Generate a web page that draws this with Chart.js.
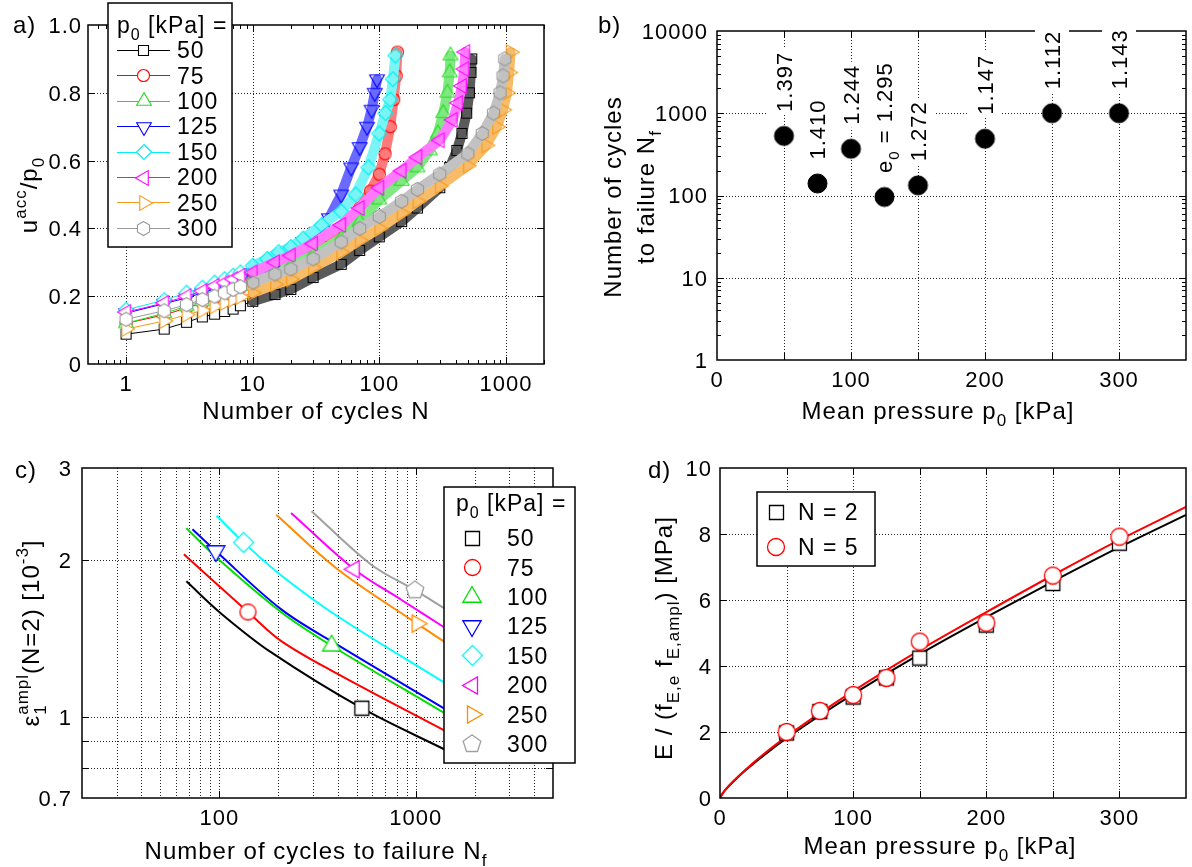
<!DOCTYPE html>
<html lang="en">
<head>
<meta charset="UTF-8">
<title>Pore pressure, cycles to failure and stiffness</title>
<script src="https://cdn.jsdelivr.net/npm/chart.js"></script>
<style>
  body { margin: 0; background: #fff; width: 1192px; height: 867px; position: relative; overflow: hidden; }
  canvas { position: absolute; }
</style>
</head>
<body>
<canvas id="chartA" width="590" height="430" style="left:0;top:0"></canvas>
<canvas id="chartB" width="602" height="430" style="left:590px;top:0"></canvas>
<canvas id="chartC" width="590" height="437" style="left:0;top:430px"></canvas>
<canvas id="chartD" width="602" height="437" style="left:590px;top:430px"></canvas>
<script>
// ---- data ----
const pressures = [50, 75, 100, 125, 150, 200, 250, 300];

// a) accumulated pore pressure ratio vs number of cycles
const cyclesA50 = [1, 2, 3, 4, 5, 6, 7, 8, 10, 15, 20, 30, 50, 70, 100, 150, 200, 300, 360, 410, 450, 490, 515, 530, 537];
const uaccA50 = [0.088, 0.103, 0.123, 0.139, 0.147, 0.155, 0.162, 0.172, 0.185, 0.205, 0.22, 0.255, 0.294, 0.335, 0.375, 0.42, 0.46, 0.52, 0.58, 0.63, 0.68, 0.74, 0.80, 0.86, 0.90];
const cyclesA75 = [1, 2, 3, 4, 5, 6, 7, 8, 10, 13, 16, 20, 25, 35, 52, 70, 85, 100, 111, 122, 130, 136, 139];
const uaccA75 = [0.12, 0.145, 0.165, 0.18, 0.195, 0.205, 0.215, 0.225, 0.245, 0.265, 0.285, 0.30, 0.32, 0.35, 0.40, 0.46, 0.51, 0.56, 0.62, 0.70, 0.78, 0.85, 0.92];
const cyclesA100 = [1, 2, 3, 4, 5, 6, 7, 8, 10, 15, 20, 30, 50, 70, 100, 150, 200, 250, 290, 320, 345, 360, 365];
const uaccA100 = [0.12, 0.15, 0.17, 0.185, 0.20, 0.21, 0.22, 0.23, 0.245, 0.27, 0.29, 0.32, 0.37, 0.42, 0.485, 0.54, 0.58, 0.63, 0.68, 0.74, 0.80, 0.86, 0.91];
const cyclesA125 = [1, 2, 3, 4, 5, 6, 7, 8, 10, 13, 16, 20, 25, 32, 40, 50, 60, 70, 80, 87, 92, 96];
const uaccA125 = [0.15, 0.178, 0.195, 0.21, 0.222, 0.232, 0.242, 0.25, 0.268, 0.29, 0.31, 0.335, 0.36, 0.39, 0.43, 0.50, 0.58, 0.64, 0.70, 0.75, 0.80, 0.84];
const cyclesA150 = [1, 2, 3, 4, 5, 6, 7, 8, 10, 13, 16, 20, 25, 35, 50, 65, 82, 100, 112, 122, 128, 134];
const uaccA150 = [0.16, 0.188, 0.21, 0.225, 0.24, 0.25, 0.26, 0.27, 0.29, 0.31, 0.33, 0.345, 0.37, 0.41, 0.45, 0.50, 0.58, 0.68, 0.74, 0.78, 0.84, 0.91];
const cyclesA200 = [1, 2, 3, 4, 5, 6, 7, 8, 10, 15, 20, 30, 50, 70, 100, 150, 200, 300, 380, 420, 450, 470, 478];
const uaccA200 = [0.153, 0.18, 0.20, 0.215, 0.23, 0.24, 0.25, 0.26, 0.27, 0.30, 0.32, 0.355, 0.41, 0.46, 0.52, 0.57, 0.61, 0.66, 0.72, 0.77, 0.82, 0.87, 0.92];
const cyclesA250 = [1, 2, 3, 4, 5, 6, 7, 8, 10, 15, 20, 30, 50, 70, 100, 150, 200, 300, 500, 700, 850, 950, 1020, 1060, 1090];
const uaccA250 = [0.103, 0.127, 0.145, 0.158, 0.17, 0.18, 0.19, 0.198, 0.21, 0.235, 0.25, 0.285, 0.33, 0.365, 0.40, 0.445, 0.48, 0.525, 0.585, 0.645, 0.70, 0.75, 0.80, 0.86, 0.92];
const cyclesA300 = [1, 2, 3, 4, 5, 6, 7, 8, 10, 15, 20, 30, 50, 70, 100, 150, 200, 300, 500, 650, 800, 900, 950, 980];
const uaccA300 = [0.132, 0.157, 0.175, 0.19, 0.20, 0.21, 0.22, 0.228, 0.24, 0.265, 0.28, 0.31, 0.36, 0.40, 0.435, 0.48, 0.515, 0.56, 0.62, 0.68, 0.74, 0.80, 0.85, 0.90];

// b) number of cycles to failure
const cyclesToFailure = [530, 140, 370, 96, 133, 490, 1000, 1000];
const voidRatios = ['1.397', '1.410', '1.244', '1.295', '1.272', '1.147', '1.112', '1.143'];

// c) strain amplitude vs cycles to failure
const fitN50 = [68, 102, 184, 532, 1420];   const fitEps50 = [1.82, 1.58, 1.33, 1.04, 0.865];
const fitN75 = [66, 140, 206, 400, 1420];   const fitEps75 = [2.05, 1.59, 1.40, 1.21, 0.94];
const fitN100 = [68, 100, 206, 373, 1420];  const fitEps100 = [2.30, 2.00, 1.59, 1.37, 1.015];
const fitN125 = [73, 96, 206, 400, 1420];   const fitEps125 = [2.29, 2.08, 1.61, 1.375, 1.035];
const fitN150 = [97, 133, 206, 400, 1420];  const fitEps150 = [2.43, 2.16, 1.87, 1.56, 1.16];
const fitN200 = [232, 486, 840, 1420];      const fitEps200 = [2.46, 1.92, 1.68, 1.48];
const fitN250 = [195, 400, 1016, 1420];     const fitEps250 = [2.44, 1.92, 1.51, 1.39];
const fitN300 = [295, 592, 991, 1420];      const fitEps300 = [2.48, 1.96, 1.75, 1.61];
const failN = [532, 140, 373, 96, 133, 486, 1016, 991];
const failEps = [1.04, 1.59, 1.37, 2.08, 2.16, 1.92, 1.51, 1.75];

// d) stiffness vs mean pressure
const stiffN2 = [1.97, 2.62, 3.06, 3.64, 4.24, 5.24, 6.50, 7.72];
const stiffN5 = [2.00, 2.64, 3.12, 3.64, 4.74, 5.31, 6.74, 7.92];
const curveP = [0, 2, 5, 10, 20, 35, 50, 75, 100, 150, 200, 250, 300, 350];
const curveN2 = [0, 0.14, 0.29, 0.50, 0.87, 1.36, 1.81, 2.50, 3.15, 4.36, 5.48, 6.56, 7.60, 8.58];
const curveN5 = [0, 0.14, 0.29, 0.51, 0.89, 1.40, 1.86, 2.57, 3.24, 4.48, 5.63, 6.75, 7.82, 8.82];

// ---- helpers ----
const FONT = '"Liberation Sans", Arial, Helvetica, sans-serif';
const TICK = 22, TITLE = 24, LEG = 23;

function setFont(ctx, size) {
  ctx.font = size + 'px ' + FONT;
  ctx.letterSpacing = '1px';
}

// parts: plain strings, {b: sub}, {p: sup}, or both stacked
function richWidth(ctx, parts, size) {
  let w = 0;
  parts.forEach(p => {
    if (typeof p === 'string') { setFont(ctx, size); w += ctx.measureText(p).width; }
    else {
      setFont(ctx, Math.round(size * 0.7));
      w += Math.max(p.b ? ctx.measureText(p.b).width : 0, p.p ? ctx.measureText(p.p).width : 0);
    }
  });
  return w;
}

function drawRich(ctx, parts, x, y, size, align, angle) {
  ctx.save();
  ctx.translate(x, y);
  if (angle) ctx.rotate(angle);
  const w = richWidth(ctx, parts, size);
  let cx = align === 'center' ? -w / 2 : align === 'right' ? -w : 0;
  const base = size * 0.36;
  ctx.textAlign = 'left';
  ctx.textBaseline = 'alphabetic';
  parts.forEach(p => {
    if (typeof p === 'string') {
      setFont(ctx, size);
      ctx.fillText(p, cx, base);
      cx += ctx.measureText(p).width;
    } else {
      setFont(ctx, Math.round(size * 0.7));
      let pw = 0;
      if (p.b) { ctx.fillText(p.b, cx, base + size * 0.3); pw = ctx.measureText(p.b).width; }
      if (p.p) { ctx.fillText(p.p, cx, base - size * 0.45); pw = Math.max(pw, ctx.measureText(p.p).width); }
      cx += pw;
    }
  });
  ctx.restore();
}

function marker(kind, r, color, fill, lw) {
  lw = lw || 1.2;
  const s = Math.ceil(2 * r + 2 * lw + 2);
  const c = document.createElement('canvas');
  c.width = s; c.height = s;
  const g = c.getContext('2d');
  g.translate(s / 2, s / 2);
  g.beginPath();
  if (kind === 'circle') g.arc(0, 0, r, 0, Math.PI * 2);
  else if (kind === 'square') g.rect(-r, -r, 2 * r, 2 * r);
  else {
    const spec = { up: [3, -90], down: [3, 90], left: [3, 180], right: [3, 0], diamond: [4, -90], hex: [6, -90], pent: [5, -90] }[kind];
    for (let i = 0; i < spec[0]; i++) {
      const ang = (spec[1] + i * 360 / spec[0]) * Math.PI / 180;
      if (i) g.lineTo(r * Math.cos(ang), r * Math.sin(ang));
      else g.moveTo(r * Math.cos(ang), r * Math.sin(ang));
    }
    g.closePath();
  }
  if (fill) { g.fillStyle = fill; g.fill(); }
  g.strokeStyle = color; g.lineWidth = lw; g.stroke();
  return c;
}

function putMarker(ctx, m, x, y) {
  ctx.drawImage(m, Math.round(x - m.width / 2), Math.round(y - m.height / 2));
}

function pts(xs, ys) { return xs.map((v, i) => ({ x: v, y: ys[i] })); }

const logMinor = (from, to) => {
  const out = [];
  for (let d = from; d < to; d *= 10) for (let k = 2; k <= 9; k++) out.push(k * d);
  return out;
};

// grid, frame, ticks, tick labels + extra drawing
function panelPlugin(o) {
  return {
    id: 'panel',
    beforeDatasetsDraw(chart) {
      const { ctx, chartArea: a } = chart;
      const x = chart.scales.x, y = chart.scales.y;
      ctx.save();
      ctx.strokeStyle = '#222'; ctx.lineWidth = 1; ctx.setLineDash([1, 2]);
      ctx.beginPath();
      o.gridX.forEach(v => { const p = Math.round(x.getPixelForValue(v)) + 0.5; ctx.moveTo(p, a.top); ctx.lineTo(p, a.bottom); });
      o.gridY.forEach(v => { const p = Math.round(y.getPixelForValue(v)) + 0.5; ctx.moveTo(a.left, p); ctx.lineTo(a.right, p); });
      ctx.stroke();
      ctx.restore();
    },
    afterDatasetsDraw(chart) {
      const { ctx, chartArea: a } = chart;
      const x = chart.scales.x, y = chart.scales.y;
      ctx.save();
      ctx.strokeStyle = '#000'; ctx.lineWidth = 1;
      ctx.beginPath();
      const tx = (list, len) => list.forEach(v => {
        const p = Math.round(x.getPixelForValue(v)) + 0.5;
        ctx.moveTo(p, a.bottom); ctx.lineTo(p, a.bottom - len);
        ctx.moveTo(p, a.top); ctx.lineTo(p, a.top + len);
      });
      const ty = (list, len) => list.forEach(v => {
        const p = Math.round(y.getPixelForValue(v)) + 0.5;
        ctx.moveTo(a.left, p); ctx.lineTo(a.left + len, p);
        ctx.moveTo(a.right, p); ctx.lineTo(a.right - len, p);
      });
      tx(o.majorX, 7); tx(o.minorX || [], 4);
      ty(o.majorY, 7); ty(o.minorY || [], 4);
      ctx.stroke();
      ctx.lineWidth = 1.5;
      ctx.strokeRect(a.left, a.top, a.right - a.left, a.bottom - a.top);
      ctx.fillStyle = '#000';
      o.labelsX.forEach(([v, t]) => drawRich(ctx, [t], x.getPixelForValue(v), a.bottom + 19, TICK, 'center'));
      o.labelsY.forEach(([v, t]) => drawRich(ctx, [t], a.left - o.yGap, y.getPixelForValue(v), TICK, 'right'));
      o.extra(ctx, chart);
      ctx.restore();
    }
  };
}

function baseOptions(padding, xs, ys) {
  return {
    responsive: false,
    animation: false,
    events: [],
    layout: { padding },
    plugins: { legend: { display: false }, tooltip: { enabled: false } },
    scales: { x: Object.assign({ display: false }, xs), y: Object.assign({ display: false }, ys) }
  };
}

// ---- a) ----
const colorsA = ['#000000', '#ff0000', '#22dd22', '#0000ff', '#00f0f0', '#ff00ff', '#f59a1a', '#999999'];
const bandsA = ['#5a5a5a', '#ff7a7a', '#80e880', '#6a6aff', '#7af4f4', '#ff7aff', '#f8bc68', '#c2c2c2'];
const kindsA = ['square', 'circle', 'up', 'down', 'diamond', 'left', 'right', 'hex'];
const sizesA = [5, 6, 8.5, 8.5, 7.5, 8.5, 8.5, 7];
const cyclesA = [cyclesA50, cyclesA75, cyclesA100, cyclesA125, cyclesA150, cyclesA200, cyclesA250, cyclesA300];
const uaccA = [uaccA50, uaccA75, uaccA100, uaccA125, uaccA150, uaccA200, uaccA250, uaccA300];
const markersA = kindsA.map((k, i) => marker(k, sizesA[i], colorsA[i], '#fff', 1.1));
const openMarkersA = kindsA.map((k, i) => marker(k, sizesA[i], colorsA[i], null, 1.1));
const BAND_FROM = 9; // beyond this the cycle markers merge into a band

new Chart(document.getElementById('chartA'), {
  type: 'scatter',
  data: {
    datasets: pressures.map((p, i) => ({
      data: pts(cyclesA[i], uaccA[i]),
      showLine: true,
      borderColor: colorsA[i],
      borderWidth: 1,
      borderCapStyle: 'round',
      borderJoinStyle: 'round',
      segment: {
        borderWidth: c => c.p0.parsed.x >= BAND_FROM ? 10 : 1,
        borderColor: c => c.p0.parsed.x >= BAND_FROM ? bandsA[i] : colorsA[i]
      },
      pointStyle: c => c.raw && c.raw.x >= BAND_FROM ? openMarkersA[i] : markersA[i],
      pointRadius: 5,
      order: pressures.length - i
    }))
  },
  options: baseOptions({ left: 88, top: 25, right: 46, bottom: 66 },
    { type: 'logarithmic', min: 0.5, max: 2000 },
    { type: 'linear', min: 0, max: 1 }),
  plugins: [panelPlugin({
    gridX: [1, 10, 100, 1000],
    gridY: [0.2, 0.4, 0.6, 0.8],
    majorX: [1, 10, 100, 1000],
    minorX: [0.6, 0.7, 0.8, 0.9].concat(logMinor(1, 1000), [2000]),
    majorY: [0.2, 0.4, 0.6, 0.8],
    labelsX: [[1, '1'], [10, '10'], [100, '100'], [1000, '1000']],
    labelsY: [[0, '0'], [0.2, '0.2'], [0.4, '0.4'], [0.6, '0.6'], [0.8, '0.8'], [1, '1.0']],
    yGap: 6,
    extra(ctx) {
      drawRich(ctx, ['a)'], 13, 24, TITLE, 'left');
      drawRich(ctx, ['Number of cycles N'], 316, 410, TITLE, 'center');
      drawRich(ctx, ['u', { p: 'acc' }, '/p', { b: '0' }], 28, 195, TITLE, 'center', -Math.PI / 2);
      // legend
      ctx.fillStyle = '#fff';
      ctx.fillRect(108, 3, 124, 244);
      ctx.lineWidth = 1.5; ctx.strokeStyle = '#000';
      ctx.strokeRect(108, 3, 124, 244);
      ctx.fillStyle = '#000';
      drawRich(ctx, ['p', { b: '0' }, ' [kPa] ='], 117, 25, LEG, 'left');
      pressures.forEach((p, i) => {
        const ry = 50 + i * 25.4;
        ctx.strokeStyle = colorsA[i]; ctx.lineWidth = 1;
        ctx.beginPath(); ctx.moveTo(117, Math.round(ry) + 0.5); ctx.lineTo(170, Math.round(ry) + 0.5); ctx.stroke();
        putMarker(ctx, markersA[i], 143.5, ry + 0.5);
        ctx.fillStyle = '#000';
        drawRich(ctx, [String(p)], 177, ry, LEG, 'left');
      });
    }
  })]
});

// ---- b) ----
const dotB = marker('circle', 9.5, '#000', '#000', 1);
new Chart(document.getElementById('chartB'), {
  type: 'scatter',
  data: {
    datasets: [{
      data: pts(pressures, cyclesToFailure),
      pointStyle: dotB,
      pointRadius: 5
    }]
  },
  options: baseOptions({ left: 127, top: 31, right: 5, bottom: 70 },
    { type: 'linear', min: 0, max: 350 },
    { type: 'logarithmic', min: 1, max: 10000 }),
  plugins: [panelPlugin({
    gridX: [50, 100, 150, 200, 250, 300],
    gridY: [10, 100, 1000],
    majorX: [50, 100, 150, 200, 250, 300],
    majorY: [10, 100, 1000],
    minorY: logMinor(1, 10000),
    labelsX: [[0, '0'], [100, '100'], [200, '200'], [300, '300']],
    labelsY: [[1, '1'], [10, '10'], [100, '100'], [1000, '1000'], [10000, '10000']],
    yGap: 9,
    extra(ctx, chart) {
      const x = chart.scales.x, y = chart.scales.y;
      drawRich(ctx, ['b)'], 8, 24, TITLE, 'left');
      drawRich(ctx, ['Mean pressure p', { b: '0' }, ' [kPa]'], 348, 410, TITLE, 'center');
      drawRich(ctx, ['Number of cycles'], 22, 197, TITLE, 'center', -Math.PI / 2);
      drawRich(ctx, ['to failure N', { b: 'f' }], 55, 197, TITLE, 'center', -Math.PI / 2);
      pressures.forEach((p, i) => {
        const parts = i === 3 ? ['e', { b: '0' }, ' = ' + voidRatios[i]] : [voidRatios[i]];
        ctx.save();
        ctx.translate(x.getPixelForValue(p), y.getPixelForValue(cyclesToFailure[i]) - 24);
        ctx.rotate(-Math.PI / 2);
        const w = richWidth(ctx, parts, TICK);
        ctx.fillStyle = '#fff';
        ctx.fillRect(-3, -17, w + 6, 34);
        ctx.fillStyle = '#000';
        drawRich(ctx, parts, 0, 0, TICK, 'left');
        ctx.restore();
      });
    }
  })]
});

// ---- c) ----
const colorsC = ['#000000', '#ff0000', '#00e000', '#0000ff', '#00ffff', '#ff00ff', '#ff8c00', '#a0a0a0'];
const kindsC = ['square', 'circle', 'up', 'down', 'diamond', 'left', 'right', 'pent'];
const sizesC = [7, 8, 10.5, 10.5, 10, 10, 10, 9.3];
const fitN = [fitN50, fitN75, fitN100, fitN125, fitN150, fitN200, fitN250, fitN300];
const fitEps = [fitEps50, fitEps75, fitEps100, fitEps125, fitEps150, fitEps200, fitEps250, fitEps300];
const markersC = kindsC.map((k, i) => marker(k, sizesC[i], colorsC[i], '#fff', 1.3));

new Chart(document.getElementById('chartC'), {
  type: 'scatter',
  data: {
    datasets: pressures.map((p, i) => ({
      data: pts(fitN[i], fitEps[i]),
      showLine: true,
      borderColor: colorsC[i],
      borderWidth: 2,
      tension: 0.35,
      pointRadius: 0,
      order: 20
    })).concat(pressures.map((p, i) => ({
      data: [{ x: failN[i], y: failEps[i] }],
      pointStyle: markersC[i],
      pointRadius: 5,
      order: 1
    })))
  },
  options: baseOptions({ left: 82, top: 38, right: 37, bottom: 69 },
    { type: 'logarithmic', min: 20, max: 5000 },
    { type: 'logarithmic', min: 0.7, max: 3 }),
  plugins: [panelPlugin({
    gridX: logMinor(10, 1000).filter(v => v > 20).concat([100, 1000, 2000, 3000, 4000]),
    gridY: [0.8, 0.9, 1, 2],
    majorX: [100, 1000],
    majorY: [0.8, 0.9, 1, 2],
    labelsX: [[100, '100'], [1000, '1000']],
    labelsY: [[0.7, '0.7'], [1, '1'], [2, '2'], [3, '3']],
    yGap: 10,
    extra(ctx) {
      drawRich(ctx, ['c)'], 15, 39, TITLE, 'left');
      drawRich(ctx, ['Number of cycles to failure N', { b: 'f' }], 316, 420, TITLE, 'center');
      drawRich(ctx, ['\u03b5', { b: '1', p: 'ampl' }, '(N=2) [10', { p: '-3' }, ']'], 30, 203, TITLE, 'center', -Math.PI / 2);
      // legend
      ctx.fillStyle = '#fff';
      ctx.fillRect(444, 57, 131, 276);
      ctx.lineWidth = 1.5; ctx.strokeStyle = '#000';
      ctx.strokeRect(444, 57, 131, 276);
      ctx.fillStyle = '#000';
      drawRich(ctx, ['p', { b: '0' }, ' [kPa] ='], 456, 73, LEG, 'left');
      pressures.forEach((p, i) => {
        const ry = 108 + i * 29.4;
        putMarker(ctx, markersC[i], 472, ry);
        ctx.fillStyle = '#000';
        drawRich(ctx, [String(p)], 507, ry, LEG, 'left');
      });
    }
  })]
});

// ---- d) ----
const squareD = marker('square', 7, '#000', '#fff', 1.3);
const circleD = marker('circle', 8.5, '#ff0000', '#fff', 1.3);
new Chart(document.getElementById('chartD'), {
  type: 'scatter',
  data: {
    datasets: [
      { data: pts(pressures, stiffN5), pointStyle: circleD, pointRadius: 5, order: 1 },
      { data: pts(pressures, stiffN2), pointStyle: squareD, pointRadius: 5, order: 2 },
      { data: pts(curveP, curveN5), showLine: true, borderColor: '#ff0000', borderWidth: 2, cubicInterpolationMode: 'monotone', pointRadius: 0, order: 3 },
      { data: pts(curveP, curveN2), showLine: true, borderColor: '#000000', borderWidth: 2, cubicInterpolationMode: 'monotone', pointRadius: 0, order: 4 }
    ]
  },
  options: baseOptions({ left: 130, top: 38, right: 2, bottom: 69 },
    { type: 'linear', min: 0, max: 350 },
    { type: 'linear', min: 0, max: 10 }),
  plugins: [panelPlugin({
    gridX: [50, 100, 150, 200, 250, 300],
    gridY: [2, 4, 6, 8],
    majorX: [50, 100, 150, 200, 250, 300],
    majorY: [2, 4, 6, 8],
    labelsX: [[0, '0'], [100, '100'], [200, '200'], [300, '300']],
    labelsY: [[0, '0'], [2, '2'], [4, '4'], [6, '6'], [8, '8'], [10, '10']],
    yGap: 8,
    extra(ctx) {
      drawRich(ctx, ['d)'], 58, 39, TITLE, 'left');
      drawRich(ctx, ['Mean pressure p', { b: '0' }, ' [kPa]'], 350, 415, TITLE, 'center');
      drawRich(ctx, ['E / (f', { b: 'E,e' }, ' f', { b: 'E,ampl' }, ') [MPa]'], 73, 208, TITLE, 'center', -Math.PI / 2);
      ctx.fillStyle = '#fff';
      ctx.fillRect(167, 62, 118, 74);
      ctx.lineWidth = 1.5; ctx.strokeStyle = '#000';
      ctx.strokeRect(167, 62, 118, 74);
      putMarker(ctx, squareD, 186, 82);
      putMarker(ctx, circleD, 186, 117);
      ctx.fillStyle = '#000';
      drawRich(ctx, ['N = 2'], 208, 82, LEG, 'left');
      drawRich(ctx, ['N = 5'], 208, 117, LEG, 'left');
    }
  })]
});
</script>
</body>
</html>
